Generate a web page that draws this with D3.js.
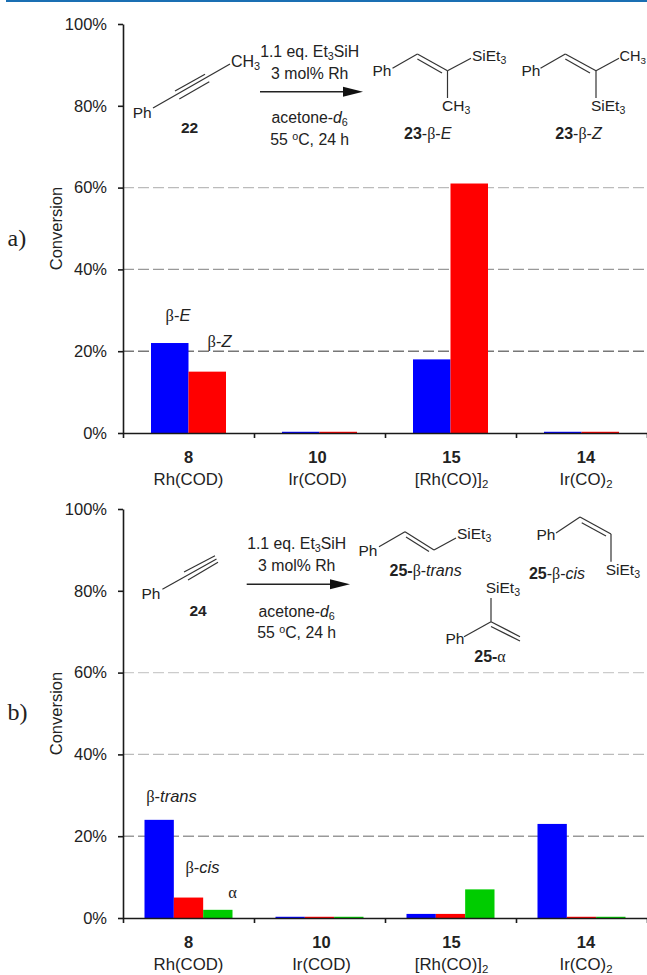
<!DOCTYPE html>
<html lang="en">
<head>
<meta charset="UTF-8">
<title>Conversion</title>
<style>
    body { margin: 0; background: #fff; }
    svg { display: block; }
    text { font-family: "Liberation Sans", Arial, sans-serif; fill: #222; }
    .axis path, .axis line { stroke: #1a1a1a; stroke-width: 1.6; }
    .bond { stroke: #333; stroke-width: 1.2; fill: none; }
</style>
</head>
<body>
<script src="https://d3js.org/d3.v7.min.js"></script>
<script>
    // catalysts
    var catalystIds = ["8", "10", "15", "14"];
    var catalystNames = [["Rh(COD)"], ["Ir(COD)"], ["[Rh(CO)]", "2"], ["Ir(CO)", "2"]];
    var yTicks = [0, 20, 40, 60, 80, 100];

    // conversion (%), top panel
    var topSeries = ["β-E", "β-Z"];
    var topBetaE = [22, 0.3, 18, 0.3];
    var topBetaZ = [15, 0.3, 61, 0.3];

    // bottom panel
    var bottomSeries = ["β-trans", "β-cis", "α"];
    var bottomTrans = [24, 0.3, 1, 23];
    var bottomCis = [5, 0.3, 1, 0.3];
    var bottomAlpha = [2, 0.3, 7, 0.3];

    var seriesColors = ["#0000ff", "#ff0000", "#00cc00"];

    var width = 647, height = 975;
    var svg = d3.select("body").append("svg").attr("width", width).attr("height", height);

    // blue rule across the top of the page
    svg.append("rect").attr("x", 6).attr("y", 0).attr("width", width - 6).attr("height", 2).attr("fill", "#1a6fb3");

    // parts: [text, style] with style b, i, sub, sup, g (greek) or nothing
    function rich(x, y, parts, anchor, size) {
        size = size || 15.5;
        var t = svg.append("text").attr("x", x).attr("y", y)
            .attr("text-anchor", anchor || "middle")
            .attr("font-size", size);
        var shift = 0;
        parts.forEach(function(p) {
            var s = p[1] || "";
            var span = t.append("tspan").text(p[0]);
            var target = s == "sub" ? 3 : s == "sup" ? -5 : 0;
            if (target != shift) { span.attr("dy", target - shift); shift = target; }
            if (s == "sub" || s == "sup") span.attr("font-size", size * 0.68);
            if (s == "b") span.attr("font-weight", "bold");
            if (s == "i") span.attr("font-style", "italic");
            if (s == "g") span.attr("font-family", "Liberation Serif");
        });
        return t;
    }

    function bond(x1, y1, x2, y2) {
        svg.append("line").attr("class", "bond")
            .attr("x1", x1).attr("y1", y1).attr("x2", x2).attr("y2", y2);
    }

    function arrow(x1, x2, y) {
        svg.append("line").attr("x1", x1).attr("y1", y).attr("x2", x2 - 10).attr("y2", y)
            .attr("stroke", "#222").attr("stroke-width", 1.4);
        svg.append("path").attr("fill", "#111")
            .attr("d", d3.line()([[x2 - 20, y - 5], [x2, y], [x2 - 20, y + 5]]));
    }

    var SIET3 = [["SiEt"], ["3", "sub"]];
    var CH3 = [["CH"], ["3", "sub"]];

    function panel(opt) {
        var x0 = d3.scaleBand().domain(catalystIds).range([123, 647]);
        var xEdge = d3.scaleLinear().domain([0, catalystIds.length]).range([123, 647]);
        var y = d3.scaleLinear().domain([0, 100]).range([opt.bottom, opt.top]);
        var inset = (x0.bandwidth() - opt.groupWidth) / 2;
        var x1 = d3.scaleBand().domain(opt.series).range([inset, inset + opt.groupWidth]);

        // dashed lines at 20, 40, 60
        svg.append("g").selectAll("line")
            .data([20, 40, 60])
            .enter().append("line")
            .attr("x1", 123).attr("x2", width)
            .attr("y1", y).attr("y2", y)
            .attr("stroke", function(d) { return opt.gridColor[d]; })
            .attr("stroke-width", 1.4)
            .attr("stroke-dasharray", "11,4");

        // bars
        opt.values.forEach(function(vals, s) {
            svg.append("g").selectAll("rect")
                .data(vals)
                .enter().append("rect")
                .attr("x", function(d, i) { return x0(catalystIds[i]) + x1(opt.series[s]); })
                .attr("width", x1.bandwidth())
                .attr("y", function(d) { return y(d); })
                .attr("height", function(d) { return y(0) - y(d); })
                .attr("fill", seriesColors[s]);
        });

        var yAxis = d3.axisLeft(y).tickValues(yTicks).tickSize(5).tickSizeOuter(0)
            .tickFormat(function(d) { return d + "%"; });
        var yG = svg.append("g").attr("class", "axis").attr("transform", "translate(123,0)").call(yAxis);
        yG.selectAll("text").attr("font-size", 16.5).attr("x", -16).style("font-family", "Liberation Sans").style("fill", "#222");

        var xAxis = d3.axisBottom(xEdge).ticks(catalystIds.length).tickSize(5).tickSizeOuter(0)
            .tickFormat("");
        svg.append("g").attr("class", "axis")
            .attr("transform", "translate(0," + opt.bottom + ")").call(xAxis);

        // catalyst labels, not quite centred under the bars in the original
        catalystIds.forEach(function(c, i) {
            var cx = x0(c) + x0.bandwidth() / 2 + opt.labelShift[i];
            rich(cx, opt.bottom + 30, [[c, "b"]], "middle", 16.5);
            var name = [[catalystNames[i][0]]];
            if (catalystNames[i][1]) name.push([catalystNames[i][1], "sub"]);
            rich(cx, opt.bottom + 52, name, "middle", 16.8);
        });

        svg.append("text").attr("text-anchor", "middle").attr("font-size", 16.5)
            .attr("transform", "translate(61.5," + (opt.top + opt.bottom) / 2 + ") rotate(-90)")
            .text("Conversion");

        svg.append("text").attr("x", 7.5).attr("y", opt.labelY).attr("font-size", 24)
            .style("font-family", "Liberation Serif").text(opt.label);
    }

    panel({
        top: 24, bottom: 433, groupWidth: 75, series: topSeries,
        values: [topBetaE, topBetaZ], label: "a)", labelY: 246,
        labelShift: [0, -2, 1, 4.5],
        gridColor: {20: "#777", 40: "#999", 60: "#bbb"}
    });
    panel({
        top: 509, bottom: 918, groupWidth: 88, series: bottomSeries,
        values: [bottomTrans, bottomCis, bottomAlpha], label: "b)", labelY: 720,
        labelShift: [0, 2, 1, 4.5],
        gridColor: {20: "#999", 40: "#bbb", 60: "#ccc"}
    });

    // series notes
    rich(178, 321, [["β", "g"], ["-"], ["E", "i"]], "middle", 16.5);
    rich(219.5, 346.5, [["β", "g"], ["-"], ["Z", "i"]], "middle", 16.5);
    rich(171.5, 802, [["β", "g"], ["-"], ["trans", "i"]], "middle", 16.5);
    rich(202.5, 873, [["β", "g"], ["-"], ["cis", "i"]], "middle", 16.5);
    rich(232.5, 898, [["α", "g"]], "middle", 16.5);

    // top scheme: 22
    rich(142.2, 117.5, [["Ph"]]);
    bond(153, 108, 230, 64);
    bond(175, 91, 205, 74.3);
    bond(179.3, 99, 209.3, 81.7);
    rich(231, 66.7, CH3, "start", 16);
    rich(189.5, 133.3, [["22", "b"]], "middle", 15.5);

    rich(309.7, 57.3, [["1.1 eq. Et"], ["3", "sub"], ["SiH"]], "middle", 15.8);
    rich(309.7, 79, [["3 mol% Rh"]], "middle", 15.8);
    arrow(260, 363, 91.7);
    rich(309.7, 123, [["acetone-"], ["d", "i"], ["6", "sub"]], "middle", 15.8);
    rich(309.7, 145, [["55 "], ["o", "sup"], ["C, 24 h"]], "middle", 15.8);

    // 23-β-E
    rich(382, 76, [["Ph"]]);
    bond(392.5, 68.3, 417.4, 54);
    bond(417.4, 54, 447.5, 70.7);
    bond(417.4, 59, 442, 73);
    bond(447.5, 70.7, 471, 58.3);
    bond(447.5, 70.7, 447.5, 98);
    rich(472, 61, SIET3, "start");
    rich(442, 111, CH3, "start");
    rich(427.7, 139, [["23", "b"], ["-"], ["β", "g"], ["-"], ["E", "i"]], "middle", 16);

    // 23-β-Z
    rich(531, 76, [["Ph"]]);
    bond(540.5, 68.3, 565.3, 54);
    bond(565.3, 54, 596, 70.7);
    bond(565.3, 59, 590, 73);
    bond(596, 70.7, 619, 58.3);
    bond(596, 70.7, 596, 98);
    rich(619.5, 61, CH3, "start", 14.5);
    rich(591, 111, SIET3, "start");
    rich(578.5, 139, [["23", "b"], ["-"], ["β", "g"], ["-"], ["Z", "i"]], "middle", 16);

    // bottom scheme: 24
    rich(151, 599, [["Ph"]]);
    bond(162.4, 589.3, 216.5, 559);
    bond(184, 572, 215, 555.7);
    bond(188, 580, 218, 562.3);
    rich(198, 616, [["24", "b"]], "middle", 15.5);

    rich(296.7, 549, [["1.1 eq. Et"], ["3", "sub"], ["SiH"]], "middle", 15.8);
    rich(296.7, 571, [["3 mol% Rh"]], "middle", 15.8);
    arrow(246.7, 350, 584.3);
    rich(296.7, 617, [["acetone-"], ["d", "i"], ["6", "sub"]], "middle", 15.8);
    rich(296.7, 638, [["55 "], ["o", "sup"], ["C, 24 h"]], "middle", 15.8);

    // 25-β-trans
    rich(368, 556, [["Ph"]]);
    bond(379, 546.7, 405, 531.7);
    bond(405, 531.7, 434, 550);
    bond(406, 537, 429, 551.5);
    bond(434, 550, 456, 538);
    rich(457, 539, SIET3, "start");
    rich(425.6, 576, [["25-", "b"], ["β", "g"], ["-"], ["trans", "i"]], "middle", 16);

    // 25-β-cis
    rich(546, 540, [["Ph"]]);
    bond(556, 533, 580, 517);
    bond(580, 517, 611, 534);
    bond(581.7, 522.7, 606, 536);
    bond(611, 534, 611, 561.7);
    rich(605.7, 575, SIET3, "start");
    rich(557, 578.5, [["25", "b"], ["-"], ["β", "g"], ["-"], ["cis", "i"]], "middle", 16);

    // 25-α
    rich(485.7, 593, SIET3, "start");
    bond(491, 598, 491, 621.7);
    rich(455, 644, [["Ph"]]);
    bond(464, 636.7, 491, 621.7);
    bond(491, 621.7, 520, 636.7);
    bond(491, 626.5, 520, 641);
    rich(490, 662, [["25-", "b"], ["α", "g"]], "middle", 16);
</script>
</body>
</html>
